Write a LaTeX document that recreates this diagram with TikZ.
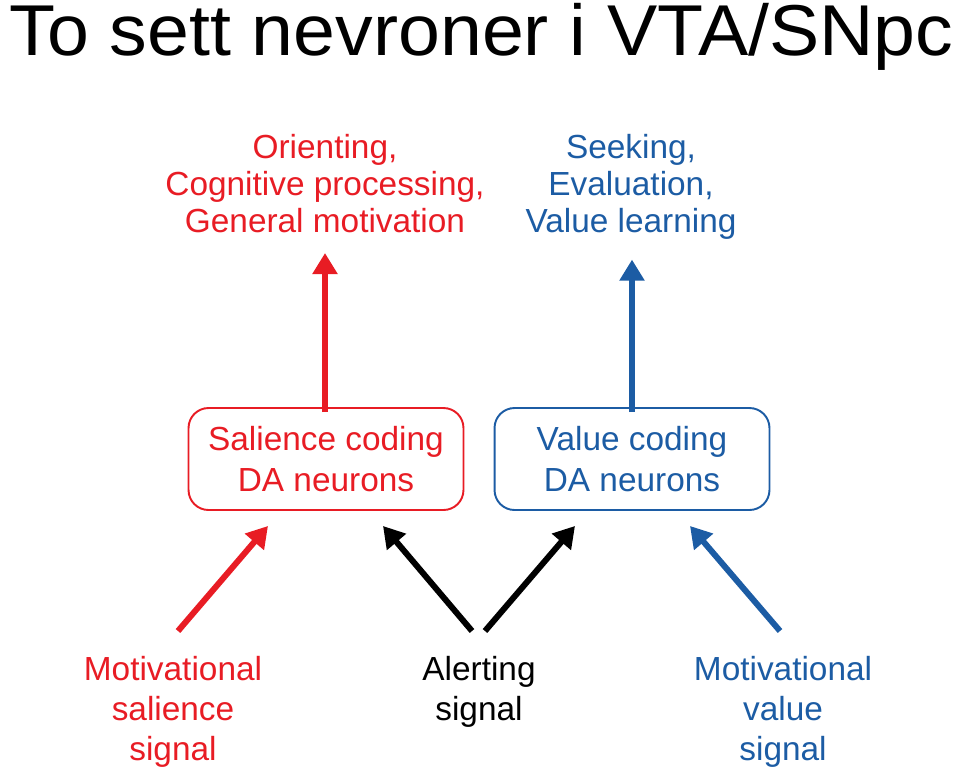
\documentclass[tikz,border=0pt]{standalone}
\usepackage{fontspec}
\setmainfont{Liberation Sans}
\usetikzlibrary{arrows.meta,positioning,calc}
\definecolor{salred}{RGB}{232,28,36}
\definecolor{valblue}{RGB}{28,92,164}

\begin{document}
\begin{tikzpicture}[
    x=0.02cm, y=-0.02cm,
    codebox/.style={rectangle, draw, rounded corners=0.4cm, line width=1.1pt, minimum width=5.5cm, minimum height=2.04cm, align=center, font=\fontsize{19}{23.8}\selectfont},
    effect/.style={align=center, inner sep=0pt, font=\fontsize{19}{21}\selectfont},
    signal/.style={align=center, inner sep=0pt, font=\fontsize{19}{22.7}\selectfont},
    arrow/.style={-{Triangle[length=0.42cm, width=0.48cm]}, line width=0.12cm},
]
    \useasboundingbox (0,0) rectangle (960,772);

    % ============ Title ============
    \node[anchor=base west, inner sep=0pt, font=\fontsize{41}{48}\selectfont] (title) at (9,55) {\scalebox{1.045}[1]{To sett nevroner i VTA/SNpc}};

    % ============ DA neuron boxes ============
    \node[codebox, draw=salred, text=salred] (sal) at (326,459) {Salience coding\\DA neurons};
    \node[codebox, draw=valblue, text=valblue] (val) at (632,459) {Value coding\\DA neurons};

    % ============ Effects (top) ============
    \node[effect, text=salred, anchor=north] (orient) at (325,134) {Orienting,\\Cognitive processing,\\General motivation};
    \node[effect, text=valblue, anchor=north] (seek) at (631,134) {Seeking,\\Evaluation,\\Value learning};

    % ============ Input signals (bottom) ============
    \node[signal, text=salred, anchor=north] (msal) at (173,656) {Motivational\\salience\\signal};
    \node[signal, anchor=north] (alert) at (479,656) {Alerting\\signal};
    \node[signal, text=valblue, anchor=north] (mval) at (783,656) {Motivational\\value\\signal};

    % ============ Connections ============
    % outputs
    \draw[arrow, salred] ($(sal.north)+(-1,5)$) -- ($(sal.north |- orient.south)+(-1,20)$);
    \draw[arrow, valblue] ($(val.north)+(0,5)$) -- ($(val.north |- seek.south)+(0,20)$);

    % inputs
    \draw[arrow, salred] ($(msal.north)+(5,-25)$) -- ($(sal.south)+(-58,15)$);
    \draw[arrow] ($(alert.north)+(-7,-25)$) -- ($(sal.south)+(57,15)$);
    \draw[arrow] ($(alert.north)+(6,-25)$) -- ($(val.south)+(-57,15)$);
    \draw[arrow, valblue] ($(mval.north)+(-3,-25)$) -- ($(val.south)+(58,15)$);

\end{tikzpicture}
\end{document}
